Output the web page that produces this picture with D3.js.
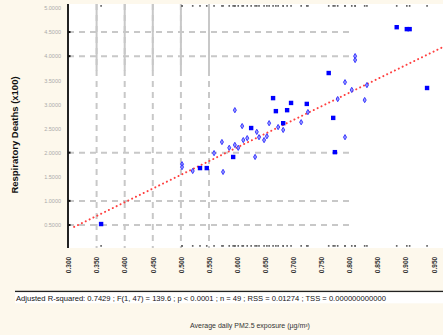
<!DOCTYPE html>
<html>
<head>
<meta charset="utf-8">
<script src="https://cdn.jsdelivr.net/npm/d3@7"></script>
<style>
  body { margin: 0; background: #fdf8ec; }
  svg { display: block; font-family: "Liberation Sans", Arial, sans-serif; }
</style>
</head>
<body>
<div id="chart"></div>
<script>
// tick values
const xTicks = [0.30, 0.35, 0.40, 0.45, 0.50, 0.55, 0.60, 0.65, 0.70, 0.75, 0.80, 0.85, 0.90, 0.95];
const yTicks = [0.5, 1.0, 1.5, 2.0, 2.5, 3.0, 3.5, 4.0, 4.5, 5.0];
const xGrid = [0.35, 0.40, 0.45, 0.50, 0.55];
const yGrid = [0.5, 1.0, 2.0, 4.0, 4.5];

// observations, big filled markers
const bigX = [0.358, 0.664, 0.696, 0.669, 0.689, 0.682, 0.625, 0.593, 0.534, 0.546, 0.884, 0.902, 0.907, 0.763, 0.938, 0.724, 0.771, 0.774];
const bigY = [0.52, 3.13, 3.03, 2.86, 2.88, 2.61, 2.51, 1.91, 1.68, 1.68, 4.60, 4.56, 4.56, 3.65, 3.34, 3.01, 2.72, 2.01];

// observations, small markers
const smallX = [0.596, 0.657, 0.609, 0.635, 0.573, 0.596, 0.602, 0.586, 0.559, 0.632, 0.502, 0.502, 0.521, 0.575,
                0.810, 0.810, 0.792, 0.726, 0.779, 0.804, 0.827, 0.831, 0.714, 0.792,
                0.648, 0.639, 0.618, 0.611, 0.653, 0.682, 0.673];
const smallY = [2.88, 2.61, 2.55, 2.43, 2.22, 2.16, 2.10, 2.10, 1.99, 1.91, 1.76, 1.70, 1.62, 1.60,
                4.00, 3.92, 3.46, 2.84, 3.11, 3.30, 3.09, 3.40, 2.63, 2.32,
                2.26, 2.32, 2.30, 2.26, 2.34, 2.47, 2.53];

// fitted line end points
const fitX = [0.31, 0.97];
const fitY = [0.46, 4.21];

const yTitle = "Respiratory Deaths (x100)";
const xTitle = "Average daily PM2.5 exposure (µg/m³)";
const statsText = "Adjusted R-squared: 0.7429 ; F(1, 47) = 139.6 ; p < 0.0001 ; n = 49 ; RSS = 0.01274 ;  TSS = 0.000000000000";

const W = 443, H = 335;
const plot = { left: 68, top: 4, right: 443, bottom: 248 };

const svg = d3.select("#chart").append("svg")
    .attr("width", W)
    .attr("height", H);

svg.append("rect").attr("width", W).attr("height", H).attr("fill", "#fdf8ec");

const x = d3.scaleLinear().domain([0.30, 0.95]).range([68.5, 433.8]);
const y = d3.scaleLinear().domain([0.5, 5.0]).range([225, 7.9]);

svg.append("rect")
    .attr("x", plot.left).attr("y", plot.top)
    .attr("width", plot.right - plot.left).attr("height", plot.bottom - plot.top)
    .attr("fill", "#fff");

svg.append("clipPath").attr("id", "clip")
    .append("rect")
    .attr("x", plot.left).attr("y", plot.top)
    .attr("width", plot.right - plot.left).attr("height", plot.bottom - plot.top);

const g = svg.append("g").attr("clip-path", "url(#clip)");

// grid
g.selectAll(".hgrid").data(yGrid).enter().append("line")
    .attr("x1", plot.left).attr("x2", x(0.80) + 4)
    .attr("y1", d => y(d)).attr("y2", d => y(d))
    .attr("stroke", "#c8c8c8").attr("stroke-width", 2)
    .attr("stroke-dasharray", "6,5");

g.selectAll(".vgrid").data(xGrid).enter().append("line")
    .attr("x1", d => x(d)).attr("x2", d => x(d))
    .attr("y1", plot.top).attr("y2", plot.bottom)
    .attr("stroke", "#c8c8c8").attr("stroke-width", 2)
    .attr("stroke-dasharray", "6,5");

g.selectAll(".vgrid2").data(xGrid).enter().append("line")
    .attr("x1", d => x(d)).attr("x2", d => x(d))
    .attr("y1", plot.top).attr("y2", y(3.7))
    .attr("stroke", "#c8c8c8").attr("stroke-width", 2);

// rug marks along top and bottom edges
const allX = bigX.concat(smallX);
g.selectAll(".rugTop").data(allX).enter().append("rect")
    .attr("x", d => x(d) - 0.8).attr("y", plot.top + 1)
    .attr("width", 1.6).attr("height", 1.8)
    .attr("fill", "#666");
g.selectAll(".rugBot").data(allX).enter().append("rect")
    .attr("x", d => x(d) - 0.8).attr("y", plot.bottom - 3)
    .attr("width", 1.6).attr("height", 1.8)
    .attr("fill", "#666");

// regression line
g.append("path")
    .datum(fitX.map((d, i) => [d, fitY[i]]))
    .attr("d", d3.line().x(d => x(d[0])).y(d => y(d[1])))
    .attr("fill", "none")
    .attr("stroke", "#ff4040")
    .attr("stroke-width", 2)
    .attr("stroke-linecap", "round")
    .attr("stroke-dasharray", "0.1,4.2");

// small markers
g.selectAll(".small").data(smallX).enter().append("path")
    .attr("transform", (d, i) => "translate(" + x(d) + "," + y(smallY[i]) + ")")
    .attr("d", d3.symbol().type(d3.symbolDiamond).size(8))
    .attr("fill", "#9a9aff")
    .attr("stroke", "#2b2bff")
    .attr("stroke-width", 0.9);

// big markers
g.selectAll(".big").data(bigX).enter().append("rect")
    .attr("x", d => x(d) - 2.2)
    .attr("y", (d, i) => y(bigY[i]) - 2.2)
    .attr("width", 4.4).attr("height", 4.4)
    .attr("fill", "#0000ff");

// left axis
svg.append("line")
    .attr("x1", plot.left).attr("x2", plot.left)
    .attr("y1", plot.top).attr("y2", plot.bottom)
    .attr("stroke", "#222").attr("stroke-width", 2);

svg.selectAll(".ytickmark").data(yGrid).enter().append("rect")
    .attr("x", plot.left).attr("y", d => y(d) - 1)
    .attr("width", 2.5).attr("height", 2)
    .attr("fill", "#111");

const yAxis = d3.axisLeft(y).tickValues(yTicks).tickSize(0).tickFormat(d3.format(".4f"));
svg.append("g")
    .attr("transform", "translate(" + (plot.left - 4) + ",0)")
    .call(yAxis)
    .call(a => a.select(".domain").remove())
    .selectAll("text")
    .attr("font-size", "5.5px")
    .attr("fill", "#aaa");

// x tick labels (rotated)
const xAxis = d3.axisBottom(x).tickValues(xTicks).tickSize(0).tickFormat(d3.format(".3f"));
svg.append("g")
    .attr("transform", "translate(0," + plot.bottom + ")")
    .call(xAxis)
    .call(a => a.select(".domain").remove())
    .selectAll("text")
    .attr("transform", "rotate(-90)")
    .attr("x", -17)
    .attr("y", 0)
    .attr("dy", "0.35em")
    .style("text-anchor", "middle")
    .attr("font-size", "6.5px")
    .attr("font-weight", "bold")
    .attr("fill", "#333");

// y title
svg.append("text")
    .attr("transform", "translate(18,135) rotate(-90)")
    .attr("text-anchor", "middle")
    .attr("font-size", "9.5px")
    .attr("font-weight", "bold")
    .attr("fill", "#111")
    .text(yTitle);

// stats strip
svg.append("line")
    .attr("x1", 15).attr("x2", W)
    .attr("y1", 291.5).attr("y2", 291.5)
    .attr("stroke", "#222").attr("stroke-width", 1.5);
svg.append("rect")
    .attr("x", 15).attr("y", 292.3)
    .attr("width", W - 15).attr("height", 11)
    .attr("fill", "#fff");
svg.append("text")
    .attr("x", 16).attr("y", 300.5)
    .attr("font-size", "7.6px")
    .attr("fill", "#111")
    .text(statsText);

// x title
svg.append("text")
    .attr("x", 250).attr("y", 328)
    .attr("text-anchor", "middle")
    .attr("font-size", "7px")
    .attr("fill", "#333")
    .text(xTitle);
</script>
</body>
</html>
